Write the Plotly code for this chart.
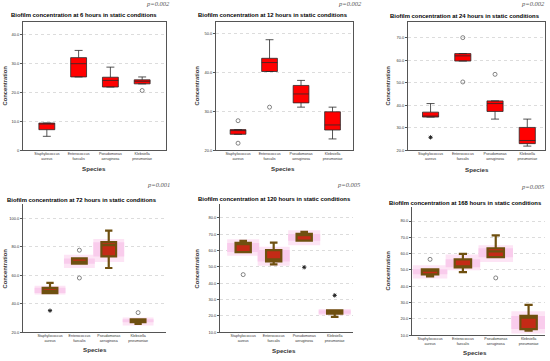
import plotly.graph_objects as go

W, H = 550, 361

species = ["Staphylococcus<br>aureus", "Enterococcus<br>faecalis",
           "Pseudomonas<br>aeruginosa", "Klebsiella<br>pneumoniae"]
hours = ["6", "12", "24", "72", "120", "168"]
p_values = ["p=0.002", "p=0.002", "p=0.002", "p=0.001", "p=0.005", "p=0.005"]

# box statistics per panel (Staph, Entero, Pseudo, Kleb)
q1 = [[7.1, 25.4, 21.9, 23.0],
      [24.1, 40.3, 32.2, 25.2],
      [34.7, 59.6, 37.2, 22.9],
      [47.4, 68.0, 73.1, 27.0],
      [59.0, 53.3, 66.0, 21.3],
      [47.3, 51.6, 57.8, 13.7]]
median = [[9.2, 30.0, 24.2, 23.9],
          [25.1, 42.6, 34.5, 26.5],
          [35.0, 61.9, 40.7, 24.3],
          [49.0, 69.4, 81.0, 28.1],
          [63.8, 54.5, 69.3, 22.3],
          [49.6, 51.8, 61.4, 20.8]]
q3 = [[9.4, 32.1, 25.3, 24.4],
      [25.3, 43.7, 36.7, 29.9],
      [36.9, 62.9, 41.9, 30.1],
      [51.1, 71.7, 83.1, 29.0],
      [64.6, 60.2, 70.1, 23.4],
      [50.4, 56.5, 63.3, 21.8]]
lower = [[4.8, 25.4, 21.9, 23.0],
         [24.1, 40.3, 31.1, 22.9],
         [34.7, 59.6, 33.8, 21.8],
         [47.4, 68.0, 65.0, 25.8],
         [59.0, 51.5, 66.0, 19.3],
         [46.1, 48.6, 57.8, 12.7]]
upper = [[9.4, 34.6, 28.8, 25.4],
         [25.3, 48.5, 38.0, 31.1],
         [40.7, 62.9, 41.9, 33.8],
         [54.6, 71.7, 91.2, 29.0],
         [65.8, 64.8, 71.3, 23.4],
         [50.4, 59.8, 71.2, 28.6]]

# outliers: (category index, value)
circle_x = [[3], [0, 0, 1], [1, 1, 2], [1, 1, 3], [0], [0, 2]]
circle_y = [[20.7], [27.6, 21.8, 31.1], [70.0, 50.3, 53.7], [77.5, 58.0, 33.7], [45.2], [56.5, 45.1]]
star_x = [[], [], [0], [0], [2, 3], []]
star_y = [[], [], [25.7], [35.1], [49.7, 32.5], []]

# pink interval shading (72, 120, 168 h)
ci_lo = [None, None, None,
         [46.4, 65.0, 69.2, 24.6],
         [56.7, 50.7, 63.2, 20.3],
         [44.7, 49.8, 54.9, 11.0]]
ci_hi = [None, None, None,
         [52.5, 74.3, 85.4, 30.2],
         [66.8, 62.2, 72.3, 24.2],
         [52.9, 59.4, 65.1, 24.7]]

y_ranges = [[0, 44.5], [20, 53.1], [20, 77], [20, 110], [10, 88.5], [10, 88.7]]
y_ticks = [[0, 10, 20, 30, 40], [20, 30, 40, 50], [20, 30, 40, 50, 60, 70],
           [20, 40, 60, 80, 100], [10, 20, 30, 40, 50, 60, 70, 80],
           [10, 20, 30, 40, 50, 60, 70, 80]]
x_ranges = [[-0.75, 3.75], [-0.7, 3.65], [-0.7, 3.55], [-0.92, 3.95], [-0.76, 3.6], [-0.55, 3.5]]

# panel frames in pixels: left, right, top, bottom
frames = [(23, 166, 22, 151), (216, 353, 22, 151), (408, 545, 22, 151),
          (23, 166, 205, 334), (220, 353, 205, 334), (412, 545, 208, 337)]
title_pos = [(84, 15), (273, 15), (465, 16), (82, 201), (274, 200), (465, 204)]
p_pos = [(158, 4), (350, 4), (533, 4), (158, 186), (349, 186), (533, 188)]
ytitle_pos = [(5, 86), (197, 86), (388, 86), (5, 270), (197, 270), (388, 272)]
xtitle_pos = [(94, 169), (283, 169), (477, 170), (95, 351), (284, 352), (475, 354)]

SANS = "Liberation Sans, Arial, sans-serif"
SERIF = "Liberation Serif, Times New Roman, serif"

fig = go.Figure()
annotations = []
layout = {}
cats = [0, 1, 2, 3]

for k in range(6):
    xa = "x" if k == 0 else f"x{k+1}"
    ya = "y" if k == 0 else f"y{k+1}"
    bottom_row = k >= 3
    if bottom_row:
        fig.add_trace(go.Bar(x=cats, base=ci_lo[k],
                             y=[h - l for h, l in zip(ci_hi[k], ci_lo[k])],
                             width=1.05, marker=dict(color="#fde4f5", line=dict(width=0)),
                             xaxis=xa, yaxis=ya, showlegend=False, hoverinfo="skip"))
        fig.add_trace(go.Bar(x=cats, base=q1[k],
                             y=[h - l for h, l in zip(q3[k], q1[k])],
                             width=1.05, marker=dict(color="#f9ccec", line=dict(width=0)),
                             xaxis=xa, yaxis=ya, showlegend=False, hoverinfo="skip"))
        fill, lc, lw = "#c42a16", "#6f5010", 2.2
    else:
        fill, lc, lw = "#ff0000", "#2a2a2a", 0.8
    fig.add_trace(go.Box(x=cats, q1=q1[k], median=median[k], q3=q3[k],
                         lowerfence=lower[k], upperfence=upper[k],
                         width=0.5, whiskerwidth=0.5, boxpoints=False,
                         fillcolor=fill, line=dict(color=lc, width=lw),
                         xaxis=xa, yaxis=ya, showlegend=False))
    if circle_x[k]:
        fig.add_trace(go.Scatter(x=circle_x[k], y=circle_y[k], mode="markers",
                                 marker=dict(symbol="circle-open", size=4,
                                             color="#666", line=dict(width=0.8)),
                                 xaxis=xa, yaxis=ya, showlegend=False))
    if star_x[k]:
        fig.add_trace(go.Scatter(x=star_x[k], y=star_y[k], mode="markers",
                                 marker=dict(symbol="asterisk-open", size=3.5,
                                             color="#222", line=dict(width=1)),
                                 xaxis=xa, yaxis=ya, showlegend=False))

    l, r, t, b = frames[k]
    key = "xaxis" if k == 0 else f"xaxis{k+1}"
    keyy = "yaxis" if k == 0 else f"yaxis{k+1}"
    layout[key] = dict(domain=[l / W, r / W], anchor=ya, range=x_ranges[k],
                       tickvals=cats, ticktext=species, showgrid=False,
                       zeroline=False, showline=True, linecolor="#555", linewidth=0.8,
                       mirror=not bottom_row, ticks="", tickangle=0,
                       tickfont=dict(size=3.6, family=SANS, color="#333"))
    ticktext = [("0" if v == 0 else f"{v:.1f}") for v in y_ticks[k]]
    layout[keyy] = dict(domain=[1 - b / H, 1 - t / H], anchor=xa, range=y_ranges[k],
                        tickvals=y_ticks[k], ticktext=ticktext,
                        showgrid=True, gridcolor="#dcdcdc", griddash="dot", gridwidth=0.7,
                        zeroline=False, showline=True, linecolor="#555", linewidth=0.8,
                        mirror=not bottom_row, ticks="outside", ticklen=2, tickcolor="#555",
                        tickfont=dict(size=4, family=SANS, color="#333"))

    tx, ty = title_pos[k]
    annotations.append(dict(x=tx / W, y=1 - ty / H, xref="paper", yref="paper",
                            text=f"<b>Biofilm concentration at {hours[k]} hours in static conditions</b>",
                            showarrow=False, xanchor="center", yanchor="middle",
                            font=dict(size=5.9, family=SANS, color="#000")))
    px_, py_ = p_pos[k]
    annotations.append(dict(x=px_ / W, y=1 - py_ / H, xref="paper", yref="paper",
                            text=f"<i>{p_values[k]}</i>", showarrow=False,
                            xanchor="center", yanchor="middle",
                            font=dict(size=6.5, family=SERIF, color="#555")))
    yx, yy = ytitle_pos[k]
    annotations.append(dict(x=yx / W, y=1 - yy / H, xref="paper", yref="paper",
                            text="<b>Concentration</b>", showarrow=False, textangle=-90,
                            xanchor="center", yanchor="middle",
                            font=dict(size=5.8, family=SANS, color="#333")))
    sx, sy = xtitle_pos[k]
    annotations.append(dict(x=sx / W, y=1 - sy / H, xref="paper", yref="paper",
                            text="<b>Species</b>", showarrow=False,
                            xanchor="center", yanchor="middle",
                            font=dict(size=6.2, family=SANS, color="#333")))

fig.update_layout(width=W, height=H, margin=dict(l=0, r=0, t=0, b=0),
                  paper_bgcolor="white", plot_bgcolor="white",
                  barmode="overlay", boxmode="overlay", showlegend=False,
                  annotations=annotations, **layout)
fig.write_html("out.html", config={"displayModeBar": False},
               post_script="document.body.style.margin='0px';document.body.style.overflow='hidden';")
